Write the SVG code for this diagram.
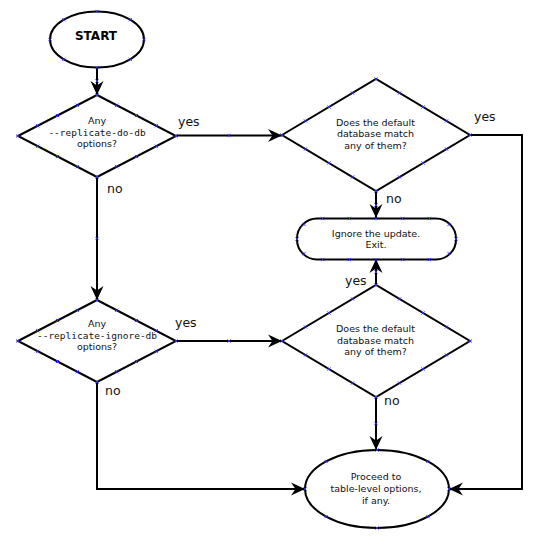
<svg xmlns="http://www.w3.org/2000/svg" xmlns:xlink="http://www.w3.org/1999/xlink" width="545" height="545" viewBox="0 0 545 545">
<style>
.shape{fill:#fff;stroke:#000;stroke-width:2}
.line{fill:none;stroke:#000;stroke-width:2}
.t{font-family:"DejaVu Sans","Liberation Sans",sans-serif;font-size:9.5px;fill:#111;text-anchor:middle}
.m{font-family:"DejaVu Sans Mono","Liberation Mono",monospace;font-size:9.5px;fill:#111;text-anchor:middle}
.lbl{font-family:"DejaVu Sans","Liberation Sans",sans-serif;font-size:12.5px;fill:#111}
.b{font-family:"DejaVu Sans","Liberation Sans",sans-serif;font-size:12px;font-weight:bold;fill:#000;text-anchor:middle}
.cp{fill:none;stroke:#3030ff;stroke-width:0.9}
</style>
<defs>
<marker id="arr" markerUnits="userSpaceOnUse" markerWidth="16" markerHeight="16" viewBox="-15 -8 16 16" refX="0" refY="0" orient="auto">
<path d="M0,0 L-14,-6.5 L-9.5,0 L-14,6.5 Z" fill="#000"/>
</marker>
<path id="x" d="M-1.6,-1.6 L1.6,1.6 M-1.6,1.6 L1.6,-1.6"/>
</defs>
<rect width="545" height="545" fill="#fff"/>
<g id="connectors">
<line class="line" x1="97" y1="67.5" x2="97" y2="95" marker-end="url(#arr)"/>
<line class="line" x1="176" y1="135.5" x2="282" y2="135.5" marker-end="url(#arr)"/>
<line class="line" x1="376" y1="191" x2="376" y2="218" marker-end="url(#arr)"/>
<polyline class="line" points="470,135 522,135 522,489 449,489" marker-end="url(#arr)"/>
<line class="line" x1="97" y1="177" x2="97" y2="300" marker-end="url(#arr)"/>
<line class="line" x1="176" y1="341" x2="282" y2="341" marker-end="url(#arr)"/>
<line class="line" x1="376" y1="285" x2="376" y2="259" marker-end="url(#arr)"/>
<line class="line" x1="376" y1="397" x2="376" y2="450" marker-end="url(#arr)"/>
<polyline class="line" points="97,382 97,489 305,489" marker-end="url(#arr)"/>
<text class="lbl" x="178" y="126">yes</text>
<text class="lbl" x="107" y="193">no</text>
<text class="lbl" x="474" y="121">yes</text>
<text class="lbl" x="386" y="203">no</text>
<text class="lbl" x="175" y="327">yes</text>
<text class="lbl" x="105" y="395">no</text>
<text class="lbl" x="345" y="285">yes</text>
<text class="lbl" x="384" y="405">no</text>
</g>
<g id="start">
<ellipse class="shape" cx="97" cy="39.5" rx="47" ry="28"/>
<text class="b" x="96" y="40">START</text>
</g>
<g id="q-do-db">
<polygon class="shape" points="18,136 97,95 176,136 97,177"/>
<text class="t" x="97" y="124">Any</text>
<text class="m" x="97" y="135.5">--replicate-do-db</text>
<text class="t" x="97" y="147">options?</text>
</g>
<g id="q-match-1">
<polygon class="shape" points="282,135 376,79 470,135 376,191"/>
<text class="t" x="375.5" y="125.5">Does the default</text>
<text class="t" x="375.5" y="137">database match</text>
<text class="t" x="375.5" y="148.5">any of them?</text>
</g>
<g id="ignore">
<rect class="shape" x="297" y="218.5" width="159" height="41" rx="20" ry="20"/>
<text class="t" x="376" y="237">Ignore the update.</text>
<text class="t" x="376" y="248">Exit.</text>
</g>
<g id="q-ignore-db">
<polygon class="shape" points="18,341 97,300 176,341 97,382"/>
<text class="t" x="97" y="327">Any</text>
<text class="m" x="97" y="339">--replicate-ignore-db</text>
<text class="t" x="97" y="350">options?</text>
</g>
<g id="q-match-2">
<polygon class="shape" points="282,341 376,285 470,341 376,397"/>
<text class="t" x="375.5" y="331.5">Does the default</text>
<text class="t" x="375.5" y="343.5">database match</text>
<text class="t" x="375.5" y="355">any of them?</text>
</g>
<g id="proceed">
<ellipse class="shape" cx="377" cy="489" rx="72" ry="39"/>
<text class="t" x="376" y="480">Proceed to</text>
<text class="t" x="376" y="492">table-level options,</text>
<text class="t" x="376" y="503.5">if any.</text>
</g>
<g id="connection-points" class="cp">
<use xlink:href="#x" x="144" y="39.5"/><use xlink:href="#x" x="130.2" y="59.3"/><use xlink:href="#x" x="97" y="67.5"/><use xlink:href="#x" x="63.8" y="59.3"/><use xlink:href="#x" x="50" y="39.5"/><use xlink:href="#x" x="63.8" y="19.7"/><use xlink:href="#x" x="97" y="11.5"/><use xlink:href="#x" x="130.2" y="19.7"/>
<use xlink:href="#x" x="18" y="136"/><use xlink:href="#x" x="97" y="95"/><use xlink:href="#x" x="176" y="136"/><use xlink:href="#x" x="97" y="177"/>
<use xlink:href="#x" x="37.75" y="125.75"/><use xlink:href="#x" x="57.5" y="115.5"/><use xlink:href="#x" x="77.25" y="105.25"/><use xlink:href="#x" x="116.75" y="105.25"/><use xlink:href="#x" x="136.5" y="115.5"/><use xlink:href="#x" x="156.25" y="125.75"/><use xlink:href="#x" x="156.25" y="146.25"/><use xlink:href="#x" x="136.5" y="156.5"/><use xlink:href="#x" x="116.75" y="166.75"/><use xlink:href="#x" x="77.25" y="166.75"/><use xlink:href="#x" x="57.5" y="156.5"/><use xlink:href="#x" x="37.75" y="146.25"/>
<use xlink:href="#x" x="18" y="341"/><use xlink:href="#x" x="97" y="300"/><use xlink:href="#x" x="176" y="341"/><use xlink:href="#x" x="97" y="382"/>
<use xlink:href="#x" x="37.75" y="330.75"/><use xlink:href="#x" x="57.5" y="320.5"/><use xlink:href="#x" x="77.25" y="310.25"/><use xlink:href="#x" x="116.75" y="310.25"/><use xlink:href="#x" x="136.5" y="320.5"/><use xlink:href="#x" x="156.25" y="330.75"/><use xlink:href="#x" x="156.25" y="351.25"/><use xlink:href="#x" x="136.5" y="361.5"/><use xlink:href="#x" x="116.75" y="371.75"/><use xlink:href="#x" x="77.25" y="371.75"/><use xlink:href="#x" x="57.5" y="361.5"/><use xlink:href="#x" x="37.75" y="351.25"/>
<use xlink:href="#x" x="282" y="135"/><use xlink:href="#x" x="376" y="79"/><use xlink:href="#x" x="470" y="135"/><use xlink:href="#x" x="376" y="191"/>
<use xlink:href="#x" x="305.5" y="121"/><use xlink:href="#x" x="329" y="107"/><use xlink:href="#x" x="352.5" y="93"/><use xlink:href="#x" x="399.5" y="93"/><use xlink:href="#x" x="423" y="107"/><use xlink:href="#x" x="446.5" y="121"/><use xlink:href="#x" x="446.5" y="149"/><use xlink:href="#x" x="423" y="163"/><use xlink:href="#x" x="399.5" y="177"/><use xlink:href="#x" x="352.5" y="177"/><use xlink:href="#x" x="329" y="163"/><use xlink:href="#x" x="305.5" y="149"/>
<use xlink:href="#x" x="282" y="341"/><use xlink:href="#x" x="376" y="285"/><use xlink:href="#x" x="470" y="341"/><use xlink:href="#x" x="376" y="397"/>
<use xlink:href="#x" x="305.5" y="327"/><use xlink:href="#x" x="329" y="313"/><use xlink:href="#x" x="352.5" y="299"/><use xlink:href="#x" x="399.5" y="299"/><use xlink:href="#x" x="423" y="313"/><use xlink:href="#x" x="446.5" y="327"/><use xlink:href="#x" x="446.5" y="355"/><use xlink:href="#x" x="423" y="369"/><use xlink:href="#x" x="399.5" y="383"/><use xlink:href="#x" x="352.5" y="383"/><use xlink:href="#x" x="329" y="369"/><use xlink:href="#x" x="305.5" y="355"/>
<use xlink:href="#x" x="322.7" y="218.5"/><use xlink:href="#x" x="349.3" y="218.5"/><use xlink:href="#x" x="376" y="218.5"/><use xlink:href="#x" x="402.7" y="218.5"/><use xlink:href="#x" x="429.3" y="218.5"/>
<use xlink:href="#x" x="322.7" y="259.5"/><use xlink:href="#x" x="349.3" y="259.5"/><use xlink:href="#x" x="376" y="259.5"/><use xlink:href="#x" x="402.7" y="259.5"/><use xlink:href="#x" x="429.3" y="259.5"/>
<use xlink:href="#x" x="304" y="224.5"/><use xlink:href="#x" x="297" y="239"/><use xlink:href="#x" x="304" y="253.5"/><use xlink:href="#x" x="449" y="224.5"/><use xlink:href="#x" x="456" y="239"/><use xlink:href="#x" x="449" y="253.5"/>
<use xlink:href="#x" x="449" y="489"/><use xlink:href="#x" x="427.9" y="516.6"/><use xlink:href="#x" x="377" y="528"/><use xlink:href="#x" x="326.1" y="516.6"/><use xlink:href="#x" x="305" y="489"/><use xlink:href="#x" x="326.1" y="461.4"/><use xlink:href="#x" x="377" y="450"/><use xlink:href="#x" x="427.9" y="461.4"/>
<use xlink:href="#x" x="97" y="81"/><use xlink:href="#x" x="229" y="135.5"/><use xlink:href="#x" x="376" y="205"/><use xlink:href="#x" x="97" y="238.5"/><use xlink:href="#x" x="229" y="341"/><use xlink:href="#x" x="376" y="272"/><use xlink:href="#x" x="376" y="423.5"/>
</g>
</svg>
